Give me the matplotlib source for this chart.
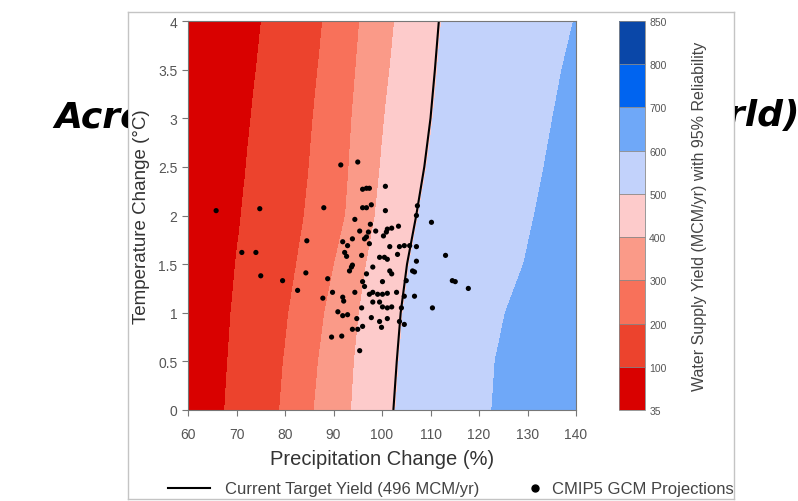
import numpy as np
import matplotlib
matplotlib.use("Agg")
import matplotlib.pyplot as plt
from matplotlib.transforms import Bbox, TransformedBbox

plt.rcParams['font.family'] = ['Liberation Sans', 'DejaVu Sans']

# yield bins shown on the colour bar
levels = [35, 100, 200, 300, 400, 500, 600, 700, 800, 850]
level_colors = ['#d90100', '#ec432d', '#f8715a', '#fa9a88', '#fdcbcb',
                '#c2d2fb', '#6fa8f8', '#0064f0', '#0a47a8']
target_yield = 495

# where each bin boundary sits (precipitation %) at these temperature changes
temp_rows = [0, 0.5, 1, 1.5, 2, 2.5, 3, 3.5, 4]
bound_100 = [67.6, 68.2, 68.9, 69.8, 71.0, 72.0, 73.0, 74.1, 75.2]
bound_200 = [78.9, 79.7, 80.8, 82.4, 84.0, 85.0, 85.8, 86.8, 87.8]
bound_300 = [86.0, 86.9, 88.2, 90.2, 92.5, 93.2, 93.8, 94.6, 95.4]
bound_400 = [93.7, 94.3, 95.3, 96.8, 98.6, 99.6, 100.5, 101.6, 102.6]
bound_500 = [102.8, 103.5, 104.3, 105.6, 107.5, 109.2, 110.5, 111.4, 112.2]
bound_600 = [122.6, 123.3, 125.4, 129.2, 131.4, 133.4, 135.2, 137.1, 139.5]

# CMIP5 GCM projections: precipitation change (%), temperature change (C)
gcm_precip = [65.8, 74.8, 71.1, 74.0, 75.0, 79.5, 84.3, 84.5, 88.8, 82.6, 87.8,
              91.5, 95.0, 96.0, 96.8, 97.4, 100.7, 88.0, 96.0, 96.8, 97.8, 100.7,
              107.3, 107.1, 110.2, 94.4, 97.6, 95.4, 97.2, 98.7, 101.1, 102.0,
              100.3, 100.9, 103.4, 91.9, 93.9, 92.9, 96.8, 97.4, 96.4, 101.6,
              103.6, 104.6, 105.7, 107.1, 92.3, 92.7, 95.8, 99.5, 100.5, 101.1,
              103.2, 113.1, 107.1, 106.3, 106.7, 93.7, 93.9, 93.3, 98.1, 96.8,
              101.6, 102.0, 96.0, 96.4, 100.1, 105.0, 89.8, 91.9, 92.1, 94.4,
              97.4, 98.1, 99.1, 100.1, 101.1, 103.0, 104.6, 106.7, 98.1, 99.5,
              100.1, 101.1, 102.0, 104.0, 95.8, 90.9, 91.9, 92.9, 94.8, 97.8,
              99.5, 101.1, 103.6, 104.6, 93.9, 95.0, 96.0, 99.9, 89.6, 91.7,
              95.4, 110.4, 114.5, 115.1, 117.8]
gcm_temp = [2.05, 2.07, 1.62, 1.62, 1.38, 1.33, 1.41, 1.74, 1.35, 1.23, 1.15,
            2.52, 2.55, 2.27, 2.28, 2.28, 2.30, 2.08, 2.08, 2.08, 2.11, 2.05,
            2.10, 2.00, 1.93, 1.96, 1.91, 1.84, 1.83, 1.84, 1.86, 1.87,
            1.79, 1.83, 1.89, 1.73, 1.76, 1.69, 1.78, 1.71, 1.76, 1.68,
            1.68, 1.69, 1.69, 1.68, 1.62, 1.58, 1.59, 1.57, 1.57, 1.55,
            1.60, 1.59, 1.53, 1.43, 1.42, 1.47, 1.49, 1.43, 1.47, 1.40,
            1.43, 1.40, 1.32, 1.27, 1.32, 1.33, 1.21, 1.16, 1.12, 1.21,
            1.19, 1.21, 1.19, 1.19, 1.20, 1.21, 1.17, 1.17, 1.11, 1.11,
            1.06, 1.05, 1.06, 1.05, 1.05, 1.01, 0.97, 0.98, 0.94, 0.95,
            0.91, 0.94, 0.91, 0.88, 0.83, 0.83, 0.86, 0.85, 0.75, 0.76,
            0.61, 1.05, 1.33, 1.32, 1.25]

x_ticks = [60, 70, 80, 90, 100, 110, 120, 130, 140]
y_ticks = [0, 0.5, 1, 1.5, 2, 2.5, 3, 3.5, 4]
y_tick_labels = ['0', '0.5', '1', '1.5', '2', '2.5', '3', '3.5', '4']

# build the yield surface from the boundary table
P = np.linspace(60, 140, 321)
T = np.linspace(0, 4, 161)
bounds = [bound_100, bound_200, bound_300, bound_400, bound_500, bound_600]
Z = np.zeros((len(T), len(P)))
for i, t in enumerate(T):
    pos = [55.0] + [np.interp(t, temp_rows, b) for b in bounds] + [160.0]
    Z[i] = np.interp(P, pos, [35, 100, 200, 300, 400, 500, 600, 700])

fig = plt.figure(figsize=(7.98, 5.02), dpi=100)

# slide title peeking out from behind the pasted chart
left_part = TransformedBbox(Bbox([[0, 0], [128 / 798, 1]]), fig.transFigure)
right_part = TransformedBbox(Bbox([[735 / 798, 0], [1, 1]]), fig.transFigure)
t1 = fig.text(54 / 798, 1 - 127 / 502, 'Acro', fontsize=26, fontweight='bold',
              fontstyle='italic', family='DejaVu Sans', color='black', va='baseline')
t2 = fig.text(703 / 798, 1 - 126 / 502, 'orld)', fontsize=26, fontweight='bold',
              fontstyle='italic', family='DejaVu Sans', color='black', va='baseline')
t1.set_clip_box(left_part)
t1.set_clip_on(True)
t2.set_clip_box(right_part)
t2.set_clip_on(True)

# the pasted chart image: white card with a light grey border
card = fig.add_axes([128 / 798, 0.004, (734 - 128) / 798, 0.971])
card.set_zorder(1)
card.set_xticks([])
card.set_yticks([])
card.set_facecolor('white')
for s in card.spines.values():
    s.set_color('#c4c4c4')
    s.set_linewidth(1.0)

ax = fig.add_axes([188 / 798, 91 / 502, 388 / 798, 389 / 502])
ax.set_zorder(2)
cf = ax.contourf(P, T, Z, levels=levels, colors=level_colors)
ax.contour(P, T, Z, levels=[target_yield], colors='black', linewidths=1.5)
ax.scatter(gcm_precip, gcm_temp, s=14, color='black', edgecolors='none', zorder=3)

ax.set_xlim(60, 140)
ax.set_ylim(0, 4)
ax.set_xticks(x_ticks)
ax.set_yticks(y_ticks)
ax.set_yticklabels(y_tick_labels)
ax.tick_params(labelsize=10, labelcolor='#555555', color='#777777', length=4, width=0.8)
ax.tick_params(axis='x', pad=8)
for s in ax.spines.values():
    s.set_color('#777777')
    s.set_linewidth(0.8)
ax.set_xlabel('Precipitation Change (%)', fontsize=14.5, color='#333333', labelpad=6)
ax.set_ylabel('Temperature Change (\u00b0C)', fontsize=13.5, color='#333333', labelpad=6)

cax = fig.add_axes([619 / 798, 91 / 502, 26 / 798, 389 / 502])
cax.set_zorder(2)
cbar = fig.colorbar(cf, cax=cax, ticks=levels, drawedges=True)
cbar.dividers.set_color('#888888')
cbar.dividers.set_linewidth(0.6)
cbar.outline.set_edgecolor('#888888')
cbar.outline.set_linewidth(0.6)
cbar.ax.tick_params(labelsize=7.5, labelcolor='#555555', length=0, pad=3)
cbar.set_label('Water Supply Yield (MCM/yr) with 95% Reliability', fontsize=11.5,
               color='#444444', labelpad=18)

clip = TransformedBbox(Bbox([[128 / 798, 0], [734 / 798, 1]]), fig.transFigure)

line_handle = plt.Line2D([], [], color='black', linewidth=1.5)
leg1 = fig.legend([line_handle], ['Current Target Yield (496 MCM/yr)'],
                  loc='center left', bbox_to_anchor=(168 / 798, 1 - 490 / 502),
                  frameon=False, fontsize=12, handlelength=2.5,
                  handletextpad=0.9, borderaxespad=0, borderpad=0)
dot_handle = plt.Line2D([], [], color='black', marker='o', linestyle='none', markersize=5)
leg2 = fig.legend([dot_handle], ['CMIP5 GCM Projections'],
                  loc='center left', bbox_to_anchor=(527 / 798, 1 - 490 / 502),
                  frameon=False, fontsize=12, handlelength=1.0,
                  handletextpad=0.5, borderaxespad=0, borderpad=0)
for leg in (leg1, leg2):
    leg.set_zorder(3)
    for txt in leg.get_texts():
        txt.set_color('#444444')
        txt.set_clip_box(clip)
        txt.set_clip_on(True)

fig.savefig('out.png', dpi=100)
